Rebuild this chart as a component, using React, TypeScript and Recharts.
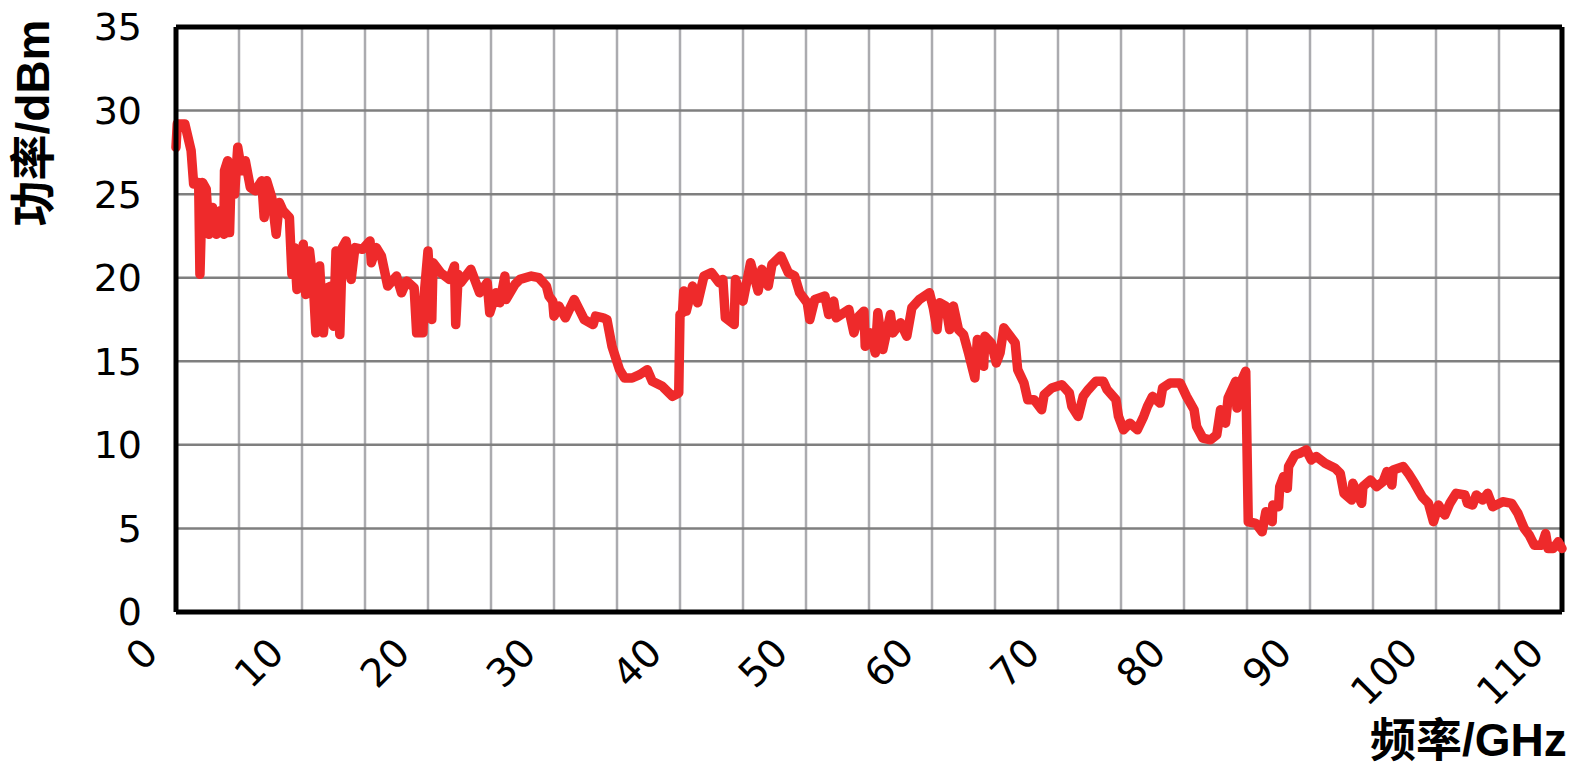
import { LineChart, Line, XAxis, YAxis, CartesianGrid, ReferenceLine } from "recharts";

// frequency (GHz) / output power (dBm)
const freqGHz = [
  0.0, 0.1, 0.7, 1.2, 1.4, 1.8, 1.9, 2.1, 2.4, 2.6, 2.9, 3.2, 3.5, 3.8, 3.85, 4.1, 4.25, 4.4, 4.65, 4.9,
  5.2, 5.5, 5.9, 6.3, 6.8, 7.0, 7.2, 7.6, 7.95, 8.2, 8.5, 9.0, 9.2, 9.4, 9.6, 10.1, 10.3, 10.6, 10.9, 11.1,
  11.4, 11.7, 12.0, 12.3, 12.5, 12.7, 13.0, 13.2, 13.5, 13.9, 14.2, 14.8, 15.4, 15.5, 15.9, 16.3, 16.8, 17.5, 17.9, 18.3,
  18.9, 19.1, 19.6, 19.7, 20.0, 20.3, 20.4, 21.0, 21.7, 22.1, 22.2, 22.4, 22.6, 23.4, 24.1, 24.7, 24.9, 25.4, 25.7, 26.1,
  26.2, 26.9, 27.3, 28.2, 28.8, 29.4, 29.6, 29.9, 30.0, 30.4, 30.9, 31.6, 32.0, 32.4, 33.1, 33.3, 33.9, 34.2, 34.6, 35.2,
  35.6, 36.2, 36.8, 37.4, 37.8, 38.6, 39.4, 39.9, 40.0, 40.2, 40.3, 40.5, 41.0, 41.4, 41.9, 42.5, 43.1, 43.4, 43.6, 44.3,
  44.4, 45.0, 45.6, 46.2, 46.5, 47.0, 47.3, 48.0, 48.6, 49.1, 49.5, 50.1, 50.3, 50.7, 51.5, 51.8, 52.2, 52.4, 53.4, 53.8,
  54.2, 54.6, 54.7, 55.1, 55.5, 55.7, 56.1, 56.7, 56.9, 57.5, 58.0, 58.4, 59.0, 59.8, 60.1, 60.4, 60.6, 61.1, 61.4, 61.7,
  62.1, 62.5, 62.9, 63.4, 63.6, 64.1, 64.2, 64.7, 65.1, 65.4, 65.7, 66.2, 66.6, 66.8, 67.3, 67.6, 68.1, 68.7, 68.9, 69.5,
  70.3, 70.9, 71.1, 71.6, 72.0, 72.4, 73.0, 73.6, 73.9, 74.6, 74.8, 75.2, 75.7, 76.3, 76.8, 77.1, 77.5, 78.1, 78.3, 78.9,
  79.7, 80.2, 80.8, 81.0, 81.5, 82.1, 82.6, 82.9, 83.3, 83.5, 84.1, 84.2, 84.6, 84.9, 85.1, 85.7, 86.2, 86.5, 87.0, 87.05,
  87.5, 87.6, 87.9, 88.2, 88.3, 88.8, 89.2, 89.7, 90.1, 90.5, 91.2, 92.0, 92.4, 92.7, 93.3, 93.4, 94.1, 94.2, 94.8, 95.3,
  95.8, 96.1, 96.5, 96.6, 97.4, 97.8, 98.3, 98.9, 99.4, 99.8, 100.2, 100.7, 101.1, 101.6, 102.3, 102.5, 102.9, 103.2, 103.7, 104.1,
  104.5, 105.3, 106.0, 106.5, 107.0, 107.4, 107.8, 108.4, 108.7, 108.9, 109.3, 109.7, 110.0,
];
const powerDBm = [
  27.8, 29.2, 29.2, 27.6, 25.6, 25.7, 20.2, 25.7, 25.3, 22.6, 24.2, 22.6, 24.0, 22.6, 26.4, 27.0, 22.7, 26.8, 25.0, 27.8,
  26.4, 27.0, 25.4, 25.2, 25.8, 23.6, 25.8, 24.8, 22.6, 24.5, 24.0, 23.6, 20.2, 21.8, 19.3, 22.0, 19.0, 21.6, 19.6, 16.7,
  20.7, 16.7, 19.4, 19.5, 17.1, 21.6, 16.6, 21.8, 22.2, 19.9, 21.8, 21.7, 22.2, 20.9, 21.8, 21.3, 19.5, 20.1, 19.1, 19.8,
  19.4, 16.7, 16.7, 19.0, 21.6, 17.5, 20.9, 20.3, 19.9, 20.7, 17.2, 20.2, 19.7, 20.5, 19.1, 19.7, 17.9, 19.1, 18.5, 20.1,
  18.7, 19.6, 19.9, 20.1, 20.0, 19.5, 18.9, 18.6, 17.7, 18.3, 17.6, 18.7, 18.1, 17.5, 17.2, 17.7, 17.6, 17.5, 15.9, 14.5,
  14.0, 14.0, 14.2, 14.5, 13.8, 13.5, 12.9, 13.1, 17.8, 17.9, 19.2, 18.0, 19.5, 18.5, 20.1, 20.3, 19.7, 19.9, 17.6, 17.2,
  19.9, 18.6, 20.9, 19.2, 20.5, 19.5, 20.8, 21.3, 20.3, 20.1, 19.1, 18.5, 17.5, 18.7, 18.9, 17.8, 18.6, 17.6, 18.1, 16.7,
  17.7, 18.0, 15.9, 16.7, 15.5, 17.9, 15.7, 17.8, 16.7, 17.3, 16.5, 18.2, 18.7, 19.1, 18.2, 16.9, 18.5, 18.3, 16.9, 18.3,
  16.9, 16.6, 15.5, 14.0, 16.3, 14.7, 16.5, 16.1, 14.9, 15.5, 17.0, 16.5, 16.1, 14.5, 13.7, 12.7, 12.7, 12.1, 13.0, 13.4,
  13.6, 13.1, 12.3, 11.7, 12.9, 13.3, 13.8, 13.8, 13.3, 12.7, 11.7, 10.9, 11.3, 10.9, 11.7, 12.3, 12.9, 12.5, 13.4, 13.7,
  13.7, 12.9, 12.1, 11.1, 10.4, 10.3, 10.6, 12.1, 11.3, 12.8, 13.8, 12.2, 13.9, 14.4, 5.4, 5.3, 4.8, 6.0, 5.4, 6.4,
  6.3, 7.5, 8.1, 7.4, 8.7, 9.4, 9.5, 9.7, 9.1, 9.3, 8.9, 8.6, 8.3, 7.1, 6.7, 7.7, 6.5, 7.5, 7.9, 7.5,
  7.8, 8.4, 7.6, 8.5, 8.7, 8.3, 7.7, 6.9, 6.5, 5.4, 6.4, 5.8, 6.5, 7.1, 7.0, 6.5, 6.4, 7.0, 6.7, 7.1,
  6.3, 6.6, 6.5, 5.9, 5.0, 4.6, 4.0, 4.0, 4.7, 3.8, 3.8, 4.2, 3.8,
];

const xTicks = [0, 5, 10, 15, 20, 25, 30, 35, 40, 45, 50, 55, 60, 65, 70, 75, 80, 85, 90, 95, 100, 105, 110];
const yTicks = [0, 5, 10, 15, 20, 25, 30, 35];
const yTitle = "功率/dBm";
const xTitle = "频率/GHz";

const data = freqGHz.map((f, i) => ({ freq: f, power: powerDBm[i] }));

const tickFont = "'DejaVu Sans', 'Noto Sans', sans-serif";
const titleFont = "'Liberation Sans', 'Noto Sans CJK SC', sans-serif";

function FreqTick(props: any) {
  const { x, y, payload } = props;
  if (payload.value % 10 !== 0) return <g />;
  const tx = x - 16;
  const ty = y + 43;
  return (
    <text
      x={tx}
      y={ty}
      transform={`rotate(-45 ${tx} ${ty})`}
      textAnchor="end"
      fontSize={39}
      fontFamily={tickFont}
      fill="#000"
    >
      {payload.value}
    </text>
  );
}

export default function App() {
  return (
    <div style={{ position: "absolute", left: 0, top: 0, width: 1588, height: 766, background: "#fff" }}>
      <LineChart
        width={1588}
        height={766}
        data={data}
        margin={{ top: 27, right: 26, left: 0, bottom: 0 }}
      >
        <CartesianGrid horizontal={false} stroke="#ababaf" strokeWidth={2.5} />
        <CartesianGrid vertical={false} stroke="#7f7f7f" strokeWidth={2.5} />
        <XAxis
          dataKey="freq"
          type="number"
          domain={[0, 110]}
          ticks={xTicks}
          interval={0}
          height={154}
          axisLine={{ stroke: "#000", strokeWidth: 5 }}
          tickLine={false}
          tickSize={0}
          tickMargin={0}
          tick={<FreqTick />}
        />
        <YAxis
          type="number"
          domain={[0, 35]}
          ticks={yTicks}
          interval={0}
          width={176}
          axisLine={{ stroke: "#000", strokeWidth: 5 }}
          tickLine={false}
          tickSize={0}
          tickMargin={34}
          tick={{ fontSize: 38, fill: "#000", fontFamily: tickFont }}
        />
        <ReferenceLine y={35} stroke="#000" strokeWidth={5} />
        <ReferenceLine x={110} stroke="#000" strokeWidth={5} />
        <Line
          dataKey="power"
          type="linear"
          stroke="#ee2a2b"
          strokeWidth={9.5}
          strokeLinejoin="round"
          strokeLinecap="round"
          dot={false}
          activeDot={false}
          isAnimationActive={false}
        />
      </LineChart>
      <svg
        width={1588}
        height={766}
        style={{ position: "absolute", left: 0, top: 0, pointerEvents: "none" }}
      >
        <text
          x={33}
          y={123}
          transform="rotate(-90 33 123)"
          textAnchor="middle"
          dominantBaseline="central"
          fontSize={46}
          fontWeight="bold"
          fontFamily={titleFont}
          fill="#000"
        >
          {yTitle}
        </text>
        <text
          x={1370}
          y={756}
          textAnchor="start"
          fontSize={46}
          fontWeight="bold"
          fontFamily={titleFont}
          fill="#000"
        >
          {xTitle}
        </text>
      </svg>
    </div>
  );
}
